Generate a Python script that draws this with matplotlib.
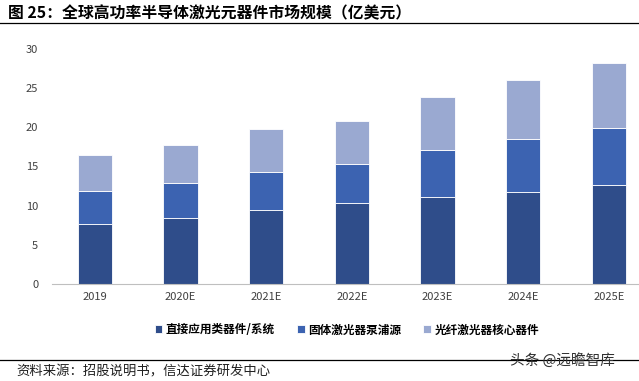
import matplotlib
matplotlib.use("Agg")
import matplotlib.pyplot as plt
from matplotlib.lines import Line2D

plt.rcParams['font.family'] = ['Noto Sans CJK SC', 'DejaVu Sans']

# data (亿美元)
years = ["2019", "2020E", "2021E", "2022E", "2023E", "2024E", "2025E"]
direct = [7.6, 8.4, 9.4, 10.4, 11.1, 11.8, 12.6]
pump = [4.3, 4.5, 4.9, 4.9, 6.0, 6.7, 7.3]
fiber = [4.5, 4.9, 5.5, 5.5, 6.8, 7.5, 8.3]
labels = ["直接应用类器件/系统", "固体激光器泵浦源", "光纤激光器核心器件"]
colors = ["#2f4d8a", "#3c63b1", "#9aa9d1"]

fig = plt.figure(figsize=(6.39, 3.81), dpi=100)
ax = fig.add_axes([0.0814, 0.2546, 0.9186, 0.617])

x = range(len(years))
bottom2 = [a + b for a, b in zip(direct, pump)]
ax.bar(x, direct, width=0.4, color=colors[0], edgecolor="white", linewidth=0.6, label=labels[0])
ax.bar(x, pump, width=0.4, bottom=direct, color=colors[1], edgecolor="white", linewidth=0.6, label=labels[1])
ax.bar(x, fiber, width=0.4, bottom=bottom2, color=colors[2], edgecolor="white", linewidth=0.6, label=labels[2])

ax.set_xlim(-0.5, 6.35)
ax.set_ylim(0, 30)
ax.set_yticks(range(0, 31, 5))
ax.set_xticks(list(x))
ax.set_xticklabels(years)
for s in ["top", "right", "left"]:
    ax.spines[s].set_visible(False)
ax.spines["bottom"].set_color("#bfbfbf")
ax.tick_params(axis="both", length=0, labelsize=8, colors="#404040")
ax.tick_params(axis="y", pad=10)
ax.tick_params(axis="x", pad=6)

fig.legend(loc="center", bbox_to_anchor=(0.543, 0.134), ncol=3, frameon=False,
           handlelength=0.65, handleheight=0.65, handletextpad=0.3,
           columnspacing=1.9, prop={"weight": "bold", "size": 8.4})

# title and rules
fig.text(0.013, 0.966, "图 25：全球高功率半导体激光元器件市场规模（亿美元）",
         fontsize=11.4, fontweight="bold", va="center", ha="left")
fig.add_artist(Line2D([0, 1], [0.94, 0.94], color="black", linewidth=0.9))
fig.add_artist(Line2D([0, 1], [0.055, 0.055], color="black", linewidth=0.9, zorder=1))
fig.text(0.025, 0.024, "资料来源：招股说明书，信达证券研发中心", fontsize=9.6,
         style="italic", va="center", ha="left", color="#202020")
fig.text(0.798, 0.055, "头条 @远瞻智库", fontsize=10.5, va="center", ha="left",
         color="#303030", zorder=2)

fig.savefig("out.png", dpi=100)
